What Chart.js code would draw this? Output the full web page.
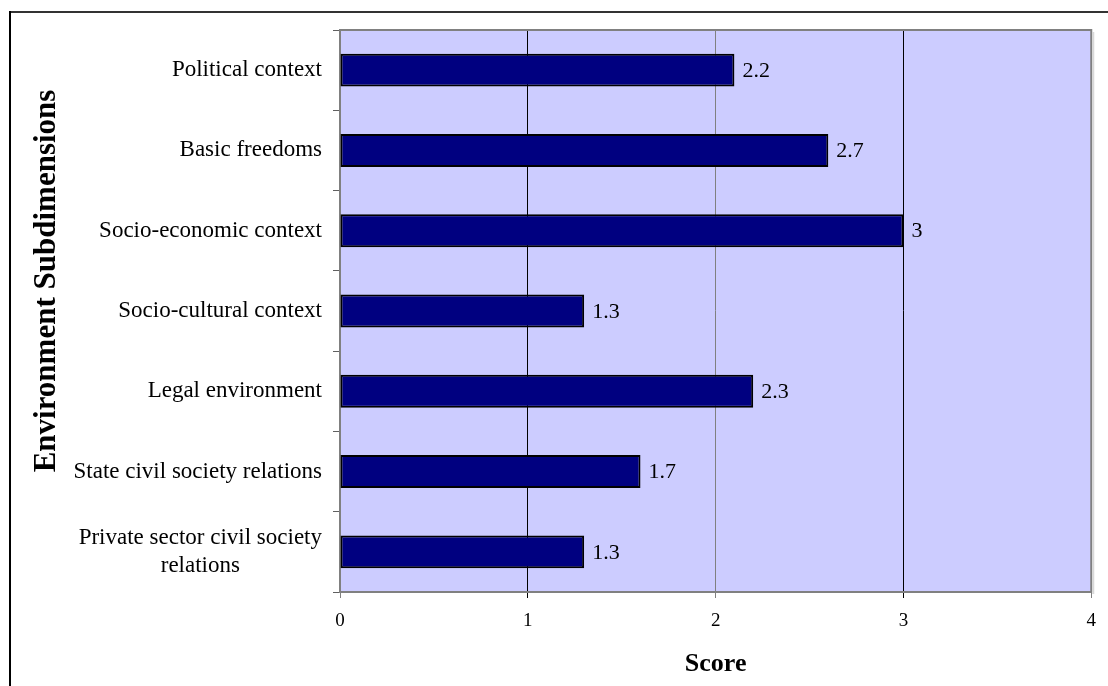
<!DOCTYPE html>
<html><head><meta charset="utf-8">
<script src="https://cdn.jsdelivr.net/npm/chart.js@4/dist/chart.umd.min.js"></script>
<style>html,body{margin:0;padding:0;background:#fff;} canvas{display:block;}</style>
</head><body>
<canvas id="c" width="1108" height="686"></canvas>
<script>
const categories = ["Political context", "Basic freedoms", "Socio-economic context", "Socio-cultural context", "Legal environment", "State civil society relations", ["Private sector civil society", "relations"]];
const barValues = [2.1, 2.6, 3.0, 1.3, 2.2, 1.6, 1.3];
const valueLabels = ["2.2", "2.7", "3", "1.3", "2.3", "1.7", "1.3"];
const xTickValues = [0, 1, 2, 3, 4];
const xTitle = "Score";
const yTitle = "Environment Subdimensions";

const SERIF = "'Liberation Serif', 'Times New Roman', serif";

const decor = {
  id: 'decor',
  beforeDraw(chart) {
    const ctx = chart.ctx, a = chart.chartArea;
    ctx.save();
    ctx.fillStyle = '#333333';
    ctx.fillRect(9, 11, 1108 - 9, 2);
    ctx.fillStyle = '#000000';
    ctx.fillRect(9, 11, 2, 686 - 11);
    ctx.fillStyle = '#CCCCFF';
    ctx.fillRect(a.left, a.top, a.right - a.left, a.bottom - a.top);
    ctx.restore();
  },
  afterDraw(chart) {
    const ctx = chart.ctx, a = chart.chartArea;
    ctx.save();
    ctx.strokeStyle = '#808080';
    ctx.lineWidth = 2;
    ctx.beginPath();
    ctx.moveTo(a.left, a.top); ctx.lineTo(a.right, a.top); ctx.lineTo(a.right, a.bottom);
    ctx.stroke();
    ctx.fillStyle = '#D8D8D8';
    ctx.fillRect(a.right + 1, a.top + 2, 2, a.bottom - a.top);
    const ys = chart.scales.y;
    ctx.fillStyle = '#000';
    ctx.font = "23px " + SERIF;
    ctx.textBaseline = 'middle';
    const rightX = 322;
    categories.forEach((lab, i) => {
      const y = ys.getPixelForValue(i);
      if (Array.isArray(lab)) {
        const w = Math.max(...lab.map(s => ctx.measureText(s).width));
        ctx.textAlign = 'center';
        const lh = 28;
        const y0 = y - (lab.length - 1) * lh / 2;
        lab.forEach((s, k) => ctx.fillText(s, rightX - w / 2, y0 + k * lh));
      } else {
        ctx.textAlign = 'right';
        ctx.fillText(lab, rightX, y);
      }
    });
    ctx.save();
    ctx.translate(47, 281);
    ctx.rotate(-Math.PI / 2);
    ctx.font = "bold 31px " + SERIF;
    ctx.textAlign = 'center';
    ctx.textBaseline = 'middle';
    ctx.fillText(yTitle, 0, 0);
    ctx.restore();
    ctx.restore();
  },
  afterDatasetsDraw(chart) {
    const ctx = chart.ctx;
    const meta = chart.getDatasetMeta(0);
    ctx.save();
    ctx.fillStyle = '#000';
    ctx.font = "22px " + SERIF;
    ctx.textAlign = 'left';
    ctx.textBaseline = 'middle';
    meta.data.forEach((el, i) => {
      ctx.fillText(valueLabels[i], el.x + 8, el.y + 1);
    });
    ctx.restore();
  }
};

new Chart(document.getElementById('c'), {
  type: 'bar',
  data: {
    labels: categories,
    datasets: [{
      data: barValues,
      backgroundColor: '#000080',
      borderColor: '#000000',
      borderWidth: 2,
      borderSkipped: false,
      barPercentage: 0.41,
      categoryPercentage: 1.0
    }]
  },
  options: {
    indexAxis: 'y',
    responsive: false,
    animation: false,
    devicePixelRatio: 1,
    layout: { padding: { top: 30, right: 16, left: 0, bottom: 0 } },
    plugins: { legend: { display: false }, tooltip: { enabled: false } },
    scales: {
      x: {
        type: 'linear',
        min: 0, max: 4,
        afterBuildTicks(scale) { scale.ticks = xTickValues.map(v => ({ value: v })); },
        afterFit(scale) { scale.height = 686 - 592; },
        grid: {
          color: (c) => (c.tick && (c.tick.value === 1 || c.tick.value === 3)) ? '#000000' : '#808080',
          lineWidth: 1,
          tickLength: 6,
          drawTicks: true
        },
        border: { color: '#808080', width: 2 },
        ticks: { color: '#000', font: { family: SERIF, size: 19 }, padding: 12 },
        title: { display: true, text: xTitle, color: '#000', font: { family: SERIF, size: 26, weight: 'bold' }, padding: { top: 0, bottom: 6 } }
      },
      y: {
        afterFit(scale) { scale.width = 340; },
        grid: { drawOnChartArea: false, tickLength: 7, color: '#606060', offset: true },
        border: { color: '#808080', width: 2 },
        ticks: { display: false }
      }
    }
  },
  plugins: [decor]
});
</script>
</body></html>
